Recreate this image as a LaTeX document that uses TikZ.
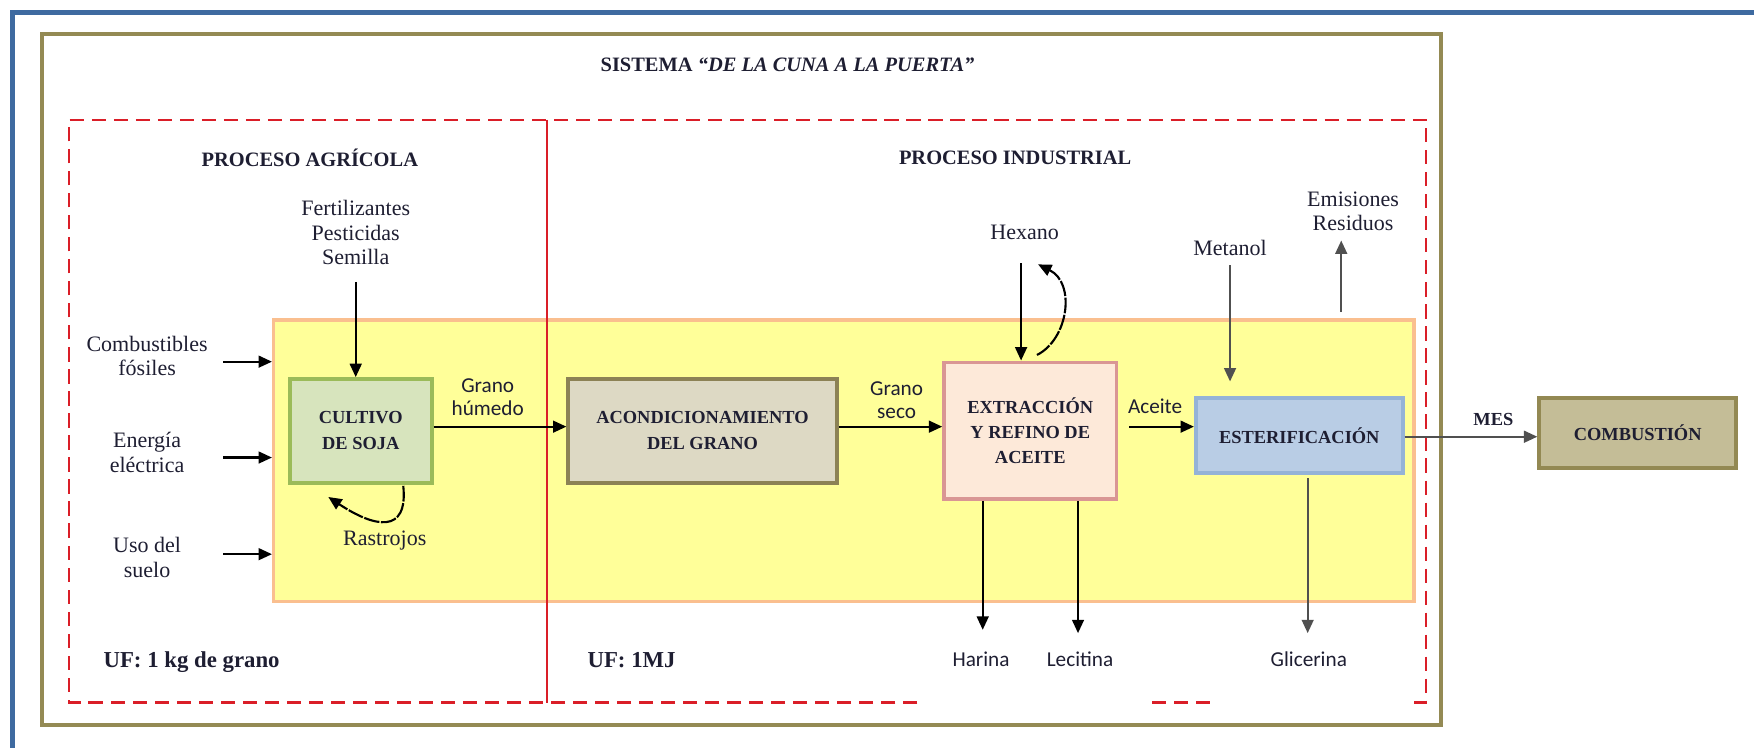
\documentclass[tikz,border=0pt]{standalone}
\usepackage{fontspec}
\setmainfont{Liberation Serif}
\newfontfamily\sansf{Carlito}
\usetikzlibrary{arrows.meta,calc}
\definecolor{frameblue}{RGB}{62,106,160}
\definecolor{frameolive}{RGB}{148,138,84}
\definecolor{dashred}{RGB}{218,30,40}
\definecolor{yelfill}{RGB}{255,255,153}
\definecolor{yelline}{RGB}{250,191,143}
\definecolor{cultfill}{RGB}{215,228,189}
\definecolor{cultline}{RGB}{155,187,89}
\definecolor{acfill}{RGB}{221,217,196}
\definecolor{acline}{RGB}{140,130,85}
\definecolor{exfill}{RGB}{253,233,217}
\definecolor{exline}{RGB}{217,150,148}
\definecolor{esfill}{RGB}{185,205,229}
\definecolor{esline}{RGB}{149,179,215}
\definecolor{cbfill}{RGB}{196,189,151}
\definecolor{cbline}{RGB}{147,137,83}
\definecolor{labcol}{RGB}{30,30,50}
\definecolor{arrgray}{RGB}{80,80,80}
\begin{document}
\begin{tikzpicture}[x=0.25mm,y=-0.25mm,
 proc/.style={draw, line width=2.4pt, inner sep=0pt, align=center, text=labcol, font=\fontsize{11.7}{16.5}\selectfont\bfseries},
 lab/.style={align=center, inner sep=0pt, text=labcol, font=\fontsize{14}{15.5}\selectfont},
 slab/.style={align=center, inner sep=0pt, text=labcol, font=\sansf\fontsize{13.5}{14.5}\selectfont},
 ttl/.style={inner sep=0pt, text=labcol, font=\fontsize{13}{15}\selectfont\bfseries},
 arr/.style={line width=1.35pt, -{Triangle[length=8.5pt,width=7.5pt]}},
 garr/.style={arr, draw=arrgray, fill=arrgray},
 reddash/.style={dashred, line width=1.3pt, dash pattern=on 9pt off 5pt},
]
\useasboundingbox (0,0) rectangle (1568,668);
% frames
\draw[frameblue, line width=3.3pt] (11.5,690) -- (11.5,11.5) -- (1600,11.5);
\draw[frameolive, line width=2.85pt] (37.5,30.5) rectangle (1288,648);
\draw[reddash] (820,628) -- (62,628) -- (62,107) -- (1275,107) -- (1275,628) -- (1258,628);
\draw[reddash] (1030,628) -- (1086,628);
% yellow area
\node[draw=yelline, fill=yelfill, line width=2.1pt, minimum width=254.85mm, minimum height=63mm, inner sep=0pt] (yel) at (754.3,412) {};
\draw[dashred, line width=1.1pt] (489,107) -- (489,628);
% titles
\node[ttl] (title) at (704,58) {SISTEMA \textit{“DE LA CUNA A LA PUERTA”}};
\node[ttl] (pagr) at (277,141.5) {PROCESO AGRÍCOLA};
\node[ttl] (pind) at (907.5,141.5) {PROCESO INDUSTRIAL};
% process boxes
\node[proc, draw=cultline, fill=cultfill, minimum width=31.75mm, minimum height=23.2mm] (cult) at (322.5,385.2) {CULTIVO\\DE SOJA};
\node[proc, draw=acline, fill=acfill, minimum width=60mm, minimum height=23.2mm] (acond) at (628,385.2) {ACONDICIONAMIENTO\\DEL GRANO};
\node[proc, draw=exline, fill=exfill, minimum width=38.5mm, minimum height=30.5mm, font=\fontsize{11.7}{15.6}\selectfont\bfseries] (ext) at (921,385) {EXTRACCIÓN\\Y REFINO DE\\ACEITE};
\node[proc, draw=esline, fill=esfill, minimum width=46.25mm, minimum height=16.75mm] (est) at (1161.5,389.5) {ESTERIFICACIÓN};
\node[proc, draw=cbline, fill=cbfill, minimum width=44mm, minimum height=15.6mm] (comb) at (1464,387.2) {COMBUSTIÓN};
% labels
\node[lab] (fert) at (318,208) {Fertilizantes\\Pesticidas\\Semilla};
\node[lab] (fos) at (131.5,318.3) {Combustibles\\fósiles};
\node[lab] (ene) at (131.5,404.5) {Energía\\eléctrica};
\node[lab] (uso) at (131.5,498.3) {Uso del\\suelo};
\node[slab] (ghum) at (436,355) {Grano\\húmedo};
\node[slab] (gsec) at (801.5,357.5) {Grano\\seco};
\node[slab] (acei) at (1032.6,363.6) {Aceite};
\node[lab] (hex) at (916,208) {Hexano};
\node[lab] (met) at (1099.6,222) {Metanol};
\node[lab] (emi) at (1209.6,189) {Emisiones\\Residuos};
\node[lab] (ras) at (344,483) {Rastrojos};
\node[slab] (har) at (877,589) {Harina};
\node[slab] (lec) at (965.5,589) {Lecitina};
\node[slab] (gli) at (1170,589) {Glicerina};
\node[ttl, font=\fontsize{11.7}{14}\selectfont\bfseries] (mes) at (1335,374.6) {MES};
\node[ttl, anchor=base west, font=\fontsize{14.5}{16}\selectfont\bfseries] (uf1) at (92.3,597) {UF: 1 kg de grano};
\node[ttl, anchor=base west, font=\fontsize{14.5}{16}\selectfont\bfseries] (uf2) at (525,597) {UF: 1MJ};
% input arrows
\coordinate (c1s) at (199.6,323.3);
\coordinate (c2s) at (199.6,409);
\coordinate (c3s) at (199.6,495.4);
\draw[arr] (c1s) -- (c1s -| yel.west);
\draw[arr] (c2s) -- (c2s -| yel.west);
\draw[arr] (c3s) -- (c3s -| yel.west);
\coordinate (sem) at (318,252);
\draw[arr] (sem) -- (sem |- cult.north);
% main flow
\coordinate (row) at (0,381.4);
\draw[arr] (cult.east |- row) -- (acond.west |- row);
\draw[arr] (acond.east |- row) -- (ext.west |- row);
\draw[arr] ($(ext.east |- row)+(10,0)$) -- (est.west |- row);
% hexano
\coordinate (hx) at (912.8,235.4);
\draw[arr] (hx) -- (hx |- ext.north);
\draw[arr, dash pattern=on 10pt off 1pt] ($(ext.north)+(6,-5)$) .. controls ($(ext.north)+(34,-19)$) and ($(ext.north)+(41,-69)$) .. ($(ext.north)+(7,-86)$);
% rastrojos
\draw[arr, dash pattern=on 10pt off 1pt] ($(cult.south)+(38,1)$) .. controls ($(cult.south)+(42.5,44.5)$) and ($(cult.south)+(12.5,38.5)$) .. ($(cult.south)+(-29,11)$);
% outputs
\coordinate (hr) at (878.5,563);
\coordinate (lc) at (963.7,566);
\draw[arr] (hr |- ext.south) -- (hr);
\draw[arr] (lc |- ext.south) -- (lc);
\coordinate (gl) at (1169,566);
\draw[garr] ($(gl |- est.south)+(0,3)$) -- (gl);
\coordinate (mt1) at (1099.6,237);
\coordinate (mt2) at (1099.6,341);
\draw[garr] (mt1) -- (mt2);
\coordinate (em1) at (1199,279);
\coordinate (em2) at (1199,215);
\draw[garr] (em1) -- (em2);
\coordinate (mesrow) at (0,390.4);
\draw[garr] (est.east |- mesrow) -- (comb.west |- mesrow);
\end{tikzpicture}
\end{document}
